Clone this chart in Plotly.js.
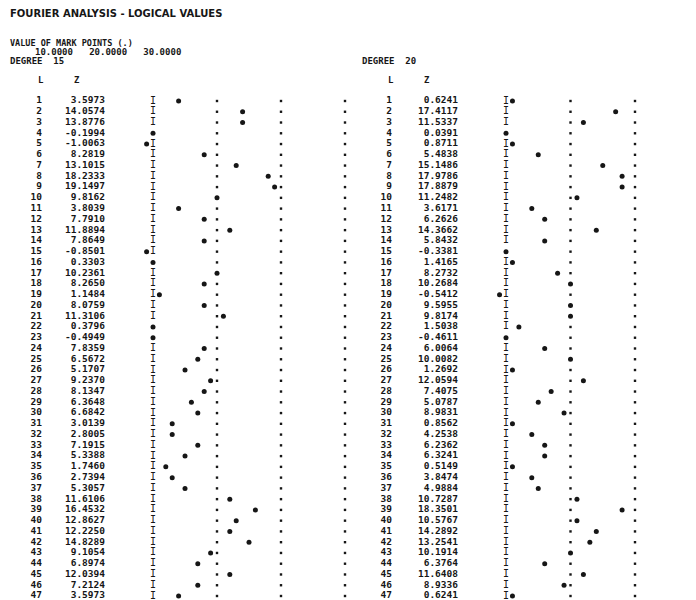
<!DOCTYPE html>
<html>
<head>
<meta charset="utf-8">
<script src="https://cdn.plot.ly/plotly-3.0.1.min.js"></script>
<style>html,body{margin:0;padding:0;background:#fff;}#chart{width:696px;height:600px;}</style>
</head>
<body>
<div id="chart"></div>
<script>
// ---- data ----
const rowsL = [1,2,3,4,5,6,7,8,9,10,11,12,13,14,15,16,17,18,19,20,21,22,23,24,25,26,27,28,29,30,31,32,33,34,35,36,37,38,39,40,41,42,43,44,45,46,47];
const zDegree15 = [3.5973,14.0574,13.8776,-0.1994,-1.0063,8.2819,13.1015,18.2333,19.1497,9.8162,3.8039,7.7910,11.8894,7.8649,-0.8501,0.3303,10.2361,8.2650,1.1484,8.0759,11.3106,0.3796,-0.4949,7.8359,6.5672,5.1707,9.2370,8.1347,6.3648,6.6842,3.0139,2.8005,7.1915,5.3388,1.7460,2.7394,5.3057,11.6106,16.4532,12.8627,12.2250,14.8289,9.1054,6.8974,12.0394,7.2124,3.5973];
const zDegree20 = [0.6241,17.4117,11.5337,0.0391,0.8711,5.4838,15.1486,17.9786,17.8879,11.2482,3.6171,6.2626,14.3662,5.8432,-0.3381,1.4165,8.2732,10.2684,-0.5412,9.5955,9.8174,1.5038,-0.4611,6.0064,10.0082,1.2692,12.0594,7.4075,5.0787,8.9831,0.8562,4.2538,6.2362,6.3241,0.5149,3.8474,4.9884,10.7287,18.3501,10.5767,14.2892,13.2541,10.1914,6.3764,11.6408,8.9336,0.6241];
const markPoints = [10, 20, 30];
const markLabels = ["10.0000", "20.0000", "30.0000"];
const degrees = [15, 20];

// ---- geometry (pixels) ----
const W = 696, H = 600;
const ROW1 = 101, ROWN = 596;
const PANELS = [
  {x0: 153, unit: 6.4,  lCol: 42,  zCol: 105, z: zDegree15, deg: degrees[0], axis: 'x',  degX: 8},
  {x0: 506, unit: 6.45, lCol: 392, zCol: 458, z: zDegree20, deg: degrees[1], axis: 'x2', degX: 360}
];
const INK = '#161616';
const MONO = 'DejaVu Sans Mono, Liberation Mono, monospace';
const txt = (size) => ({family:MONO, size:size, color:INK, weight:'bold'});

const k = (ROWN - ROW1) / (rowsL.length - 1);
const yTop = 1 - ROW1 / k;
const yBot = yTop + H / k;

const traces = [];
const annotations = [];
PANELS.forEach(p => {
  const toData = px => (px - p.x0) / p.unit;
  const pos = p.z.map(v => Math.round(v));
  // L column
  traces.push({type:'scatter', mode:'text', xaxis:p.axis, yaxis:'y', x: rowsL.map(() => toData(p.lCol)), y: rowsL,
    text: rowsL.map(String), textposition:'middle left', textfont:txt(9.5), hoverinfo:'skip', cliponaxis:false});
  // Z column
  traces.push({type:'scatter', mode:'text', xaxis:p.axis, yaxis:'y', x: rowsL.map(() => toData(p.zCol)), y: rowsL,
    text: p.z.map(v => v.toFixed(4)), textposition:'middle left', textfont:txt(9.5), hoverinfo:'skip', cliponaxis:false});
  // I baseline
  const iy = rowsL.filter((r, i) => pos[i] !== 0);
  traces.push({type:'scatter', mode:'text', xaxis:p.axis, yaxis:'y', x: iy.map(() => 0), y: iy,
    text: iy.map(() => 'I'), textposition:'middle center', textfont:{family:MONO, size:10, color:INK}, hoverinfo:'skip'});
  // mark point dots
  const dx = [], dy = [];
  markPoints.forEach(m => rowsL.forEach((r, i) => { if (pos[i] !== m) { dx.push(m); dy.push(r); } }));
  traces.push({type:'scatter', mode:'markers', xaxis:p.axis, yaxis:'y', x: dx, y: dy,
    marker:{symbol:'square', size:2.4, color:INK}, hoverinfo:'skip'});
  // values
  traces.push({type:'scatter', mode:'markers', xaxis:p.axis, yaxis:'y', x: pos, y: rowsL,
    marker:{symbol:'circle', size:5, color:INK}, hoverinfo:'skip'});
  // headers
  annotations.push({text:'DEGREE  ' + p.deg, xref:'paper', yref:'paper', x:p.degX / W, y:1 - 61 / H, xanchor:'left', yanchor:'middle', showarrow:false, font:txt(9)});
  annotations.push({text:'L', xref:'paper', yref:'paper', x:(p.lCol - 6) / W, y:1 - 80 / H, xanchor:'left', yanchor:'middle', showarrow:false, font:txt(9)});
  annotations.push({text:'Z', xref:'paper', yref:'paper', x:(p.lCol + 30) / W, y:1 - 80 / H, xanchor:'left', yanchor:'middle', showarrow:false, font:txt(9)});
});

annotations.push({text:'FOURIER ANALYSIS - LOGICAL VALUES', xref:'paper', yref:'paper', x:8 / W, y:1 - 14 / H, xanchor:'left', yanchor:'middle', showarrow:false, font:{family:'DejaVu Sans, sans-serif', size:10, color:INK, weight:'bold'}});
annotations.push({text:'VALUE OF MARK POINTS (.)', xref:'paper', yref:'paper', x:8 / W, y:1 - 43 / H, xanchor:'left', yanchor:'middle', showarrow:false, font:txt(8.5)});
annotations.push({text:markLabels.join('   '), xref:'paper', yref:'paper', x:33 / W, y:1 - 52 / H, xanchor:'left', yanchor:'middle', showarrow:false, font:txt(9)});

const axisBase = {showgrid:false, zeroline:false, showline:false, showticklabels:false, ticks:'', fixedrange:true};
const layout = {
  width: W, height: H, margin:{l:0, r:0, t:0, b:0}, paper_bgcolor:'#fff', plot_bgcolor:'#fff', showlegend:false,
  xaxis: Object.assign({}, axisBase, {domain:[0,1], range:[(0 - PANELS[0].x0) / PANELS[0].unit, (W - PANELS[0].x0) / PANELS[0].unit]}),
  xaxis2: Object.assign({}, axisBase, {domain:[0,1], overlaying:'x', range:[(0 - PANELS[1].x0) / PANELS[1].unit, (W - PANELS[1].x0) / PANELS[1].unit]}),
  yaxis: Object.assign({}, axisBase, {domain:[0,1], range:[yBot, yTop]}),
  annotations: annotations
};
Plotly.newPlot('chart', traces, layout, {staticPlot:true, displayModeBar:false});
</script>
</body>
</html>
